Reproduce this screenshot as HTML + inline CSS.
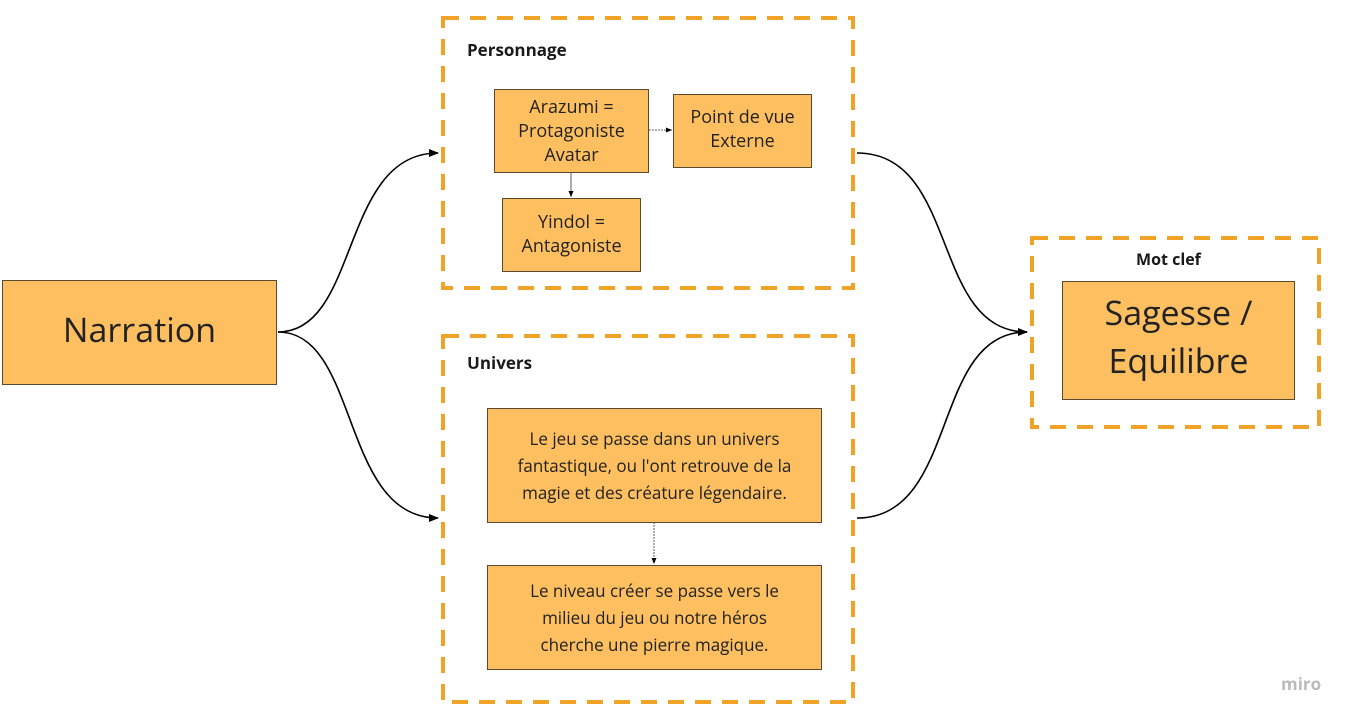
<!DOCTYPE html>
<html><head><meta charset="utf-8"><style>
body{margin:0;width:1356px;height:720px;background:#fff;position:relative;overflow:hidden;font-family:"Open Sans","Liberation Sans",sans-serif;color:#222}
.b{position:absolute;background:#fdbf5f;border:1px solid #5a4a30;box-sizing:border-box;display:flex;align-items:center;justify-content:center;text-align:center;line-height:1.35}
.t{position:absolute;font-weight:bold;font-size:17px;color:#1a1a1a}
</style></head><body>
<svg width="1356" height="720" style="position:absolute;left:0;top:0">
<defs><marker id="a" markerWidth="10" markerHeight="8" refX="9" refY="4" orient="auto" markerUnits="userSpaceOnUse"><path d="M0,0L10,4L0,8z" fill="#000"/></marker>
<marker id="s" markerWidth="6" markerHeight="5" refX="6" refY="2.5" orient="auto" markerUnits="userSpaceOnUse"><path d="M0,0L6,2.5L0,5z" fill="#000"/></marker></defs>
<g fill="none" stroke="#f0a326" stroke-width="4" stroke-dasharray="16,11">
<rect x="443" y="18" width="410" height="270"/>
<rect x="443" y="336" width="410" height="366"/>
<rect x="1032" y="238" width="287" height="189"/>
</g>
<g fill="none" stroke="#000" stroke-width="1.6">
<path d="M278,332 C360,332 340,153 438,153" marker-end="url(#a)"/>
<path d="M278,332 C360,332 340,518 438,518" marker-end="url(#a)"/>
<path d="M857,153 C960,153 930,332 1027,332" marker-end="url(#a)"/>
<path d="M857,518 C960,518 930,332 1027,332"/>
</g>
<g stroke="#333" stroke-width="0.8" fill="none">
<path d="M649,130 L672,130" stroke-dasharray="2,1" marker-end="url(#s)"/>
<path d="M571,172 L571,197" marker-end="url(#s)"/>
<path d="M654,522 L654,564" stroke-dasharray="2,1" marker-end="url(#s)"/>
</g>
</svg>
<div class="t" style="left:467px;top:38px">Personnage</div>
<div class="t" style="left:467px;top:351px">Univers</div>
<div class="t" style="left:1136px;top:248px;font-size:16px">Mot clef</div>
<div class="b" style="left:2px;top:280px;width:275px;height:105px;font-size:34px;padding-bottom:5px">Narration</div>
<div class="b" style="left:494px;top:89px;width:155px;height:84px;font-size:18px">Arazumi =<br>Protagoniste<br>Avatar</div>
<div class="b" style="left:673px;top:94px;width:139px;height:74px;font-size:18px;padding-bottom:4px">Point de vue<br>Externe</div>
<div class="b" style="left:502px;top:198px;width:139px;height:74px;font-size:18px;padding-bottom:2px">Yindol =<br>Antagoniste</div>
<div class="b" style="left:487px;top:408px;width:335px;height:115px;font-size:17px;line-height:1.6">Le jeu se passe dans un univers<br>fantastique, ou l'ont retrouve de la<br>magie et des créature légendaire.</div>
<div class="b" style="left:487px;top:565px;width:335px;height:105px;font-size:17px;line-height:1.6">Le niveau créer se passe vers le<br>milieu du jeu ou notre héros<br>cherche une pierre magique.</div>
<div class="b" style="left:1062px;top:281px;width:233px;height:119px;font-size:34px;line-height:1.4;padding-bottom:8px">Sagesse /<br>Equilibre</div>
<div style="position:absolute;left:1281px;top:672px;font-size:17px;color:#bbb;font-weight:bold">miro</div>
</body></html>
